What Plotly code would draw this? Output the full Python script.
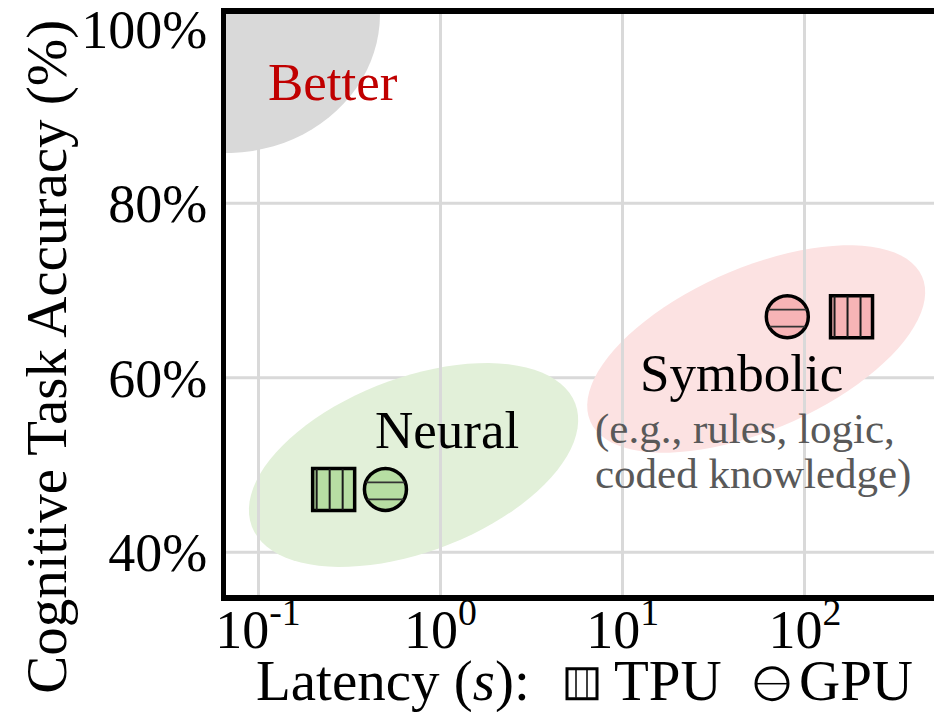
import math
import plotly.graph_objects as go

# ---------------- data ----------------
groups = ["Neural", "Symbolic"]
tpu_latency = [0.26, 180.0]      # seconds
gpu_latency = [0.50, 80.0]       # seconds
accuracy = [47.2, 67.0]          # %
group_fill = ["#b7dea3", "#f7b4b6"]
region_fill = ["#e2f0d9", "#fce2e2"]

x_tickvals = [0.1, 1, 10, 100]
x_ticktext = ["10<sup>-1</sup>", "10<sup>0</sup>", "10<sup>1</sup>", "10<sup>2</sup>"]
y_tickvals = [40, 60, 80, 100]
y_ticktext = ["40%", "60%", "80%", "100%"]
y_gridvals = [40, 60, 80]

# ---------------- layout constants ----------------
W, H = 934, 712
ML, MR, MT, MB = 226, 0, 12, 117
XR = [-1.1755, 2.7076]
YR = [35.09, 101.71]
FONT = "Liberation Serif, Times New Roman, serif"
PW, PH = W - ML - MR, H - MT - MB


def paper_x(px):
    return (px - ML) / PW


def paper_y(py):
    return (H - MB - py) / PH


def ellipse_path(a, b, ang_deg, n=90):
    th = math.radians(ang_deg)
    pts = []
    for i in range(n + 1):
        t = 2 * math.pi * i / n
        px = a * math.cos(th) * math.cos(t) - b * math.sin(th) * math.sin(t)
        py = a * math.sin(th) * math.cos(t) + b * math.cos(th) * math.sin(t)
        pts.append(f"{px:.2f},{py:.2f}")
    return "M " + " L ".join(pts) + " Z"


def pix_path(xa, ya, path, **kw):
    d = dict(type="path", xref="x", yref="y",
             xsizemode="pixel", ysizemode="pixel",
             xanchor=xa, yanchor=ya, path=path)
    d.update(kw)
    return d


fig = go.Figure()

# markers
fig.add_trace(go.Scatter(
    x=tpu_latency, y=accuracy, mode="markers", name="TPU",
    marker=dict(symbol="square", size=42, color=group_fill,
                line=dict(color="black", width=3.5)),
    showlegend=False, hoverinfo="x+y"))
fig.add_trace(go.Scatter(
    x=gpu_latency, y=accuracy, mode="markers", name="GPU",
    marker=dict(symbol="circle", size=42, color=group_fill,
                line=dict(color="black", width=3.5)),
    showlegend=False, hoverinfo="x+y"))

shapes = []

# "Better" region at the top-left corner (clipped to the plot area)
shapes.append(pix_path(10 ** XR[0], YR[1], ellipse_path(154, 139, 0),
                       layer="below", fillcolor="#d9d9d9", line=dict(width=0)))

# rotated ellipses for the two groups (center, semi-axes in px, angle)
ellipses = [
    (0.713, 50.0, 173, 87, 20.8),
    (54.0, 63.3, 181, 81, 23.6),
]
for (cx, cy, a, b, ang), col in zip(ellipses, region_fill):
    shapes.append(pix_path(cx, cy, ellipse_path(a, b, ang), layer="below",
                           fillcolor=col, line=dict(width=0)))

# horizontal grid lines (no line at 100%)
for gv in y_gridvals:
    shapes.append(dict(type="line", xref="paper", yref="y", layer="below",
                       x0=0, x1=1, y0=gv, y1=gv,
                       line=dict(color="#d9d9d9", width=3)))

# hatch lines inside the TPU squares (vertical)
for xv, yv in zip(tpu_latency, accuracy):
    for off in (-17, -4, 9):
        shapes.append(pix_path(xv, yv, f"M {off},-20.5 L {off},20.5",
                               layer="above", line=dict(color="#1a1a1a", width=2)))
# hatch lines inside the GPU circles (horizontal)
for xv, yv in zip(gpu_latency, accuracy):
    for off in (7, -10):
        hw = math.sqrt(20.5 ** 2 - off ** 2)
        shapes.append(pix_path(xv, yv, f"M {-hw:.2f},{off} L {hw:.2f},{off}",
                               layer="above", line=dict(color="#333333", width=1.8)))

# legend symbols in the x-axis title
tpu_cx, gpu_cx, sym_cy = paper_x(582), paper_x(772), paper_y(684)
shapes.append(dict(type="rect", xref="paper", yref="paper",
                   xsizemode="pixel", ysizemode="pixel",
                   xanchor=tpu_cx, yanchor=sym_cy,
                   x0=-15, x1=15, y0=-15, y1=15,
                   fillcolor="white", line=dict(color="black", width=3)))
for off in (-6, 5):
    shapes.append(dict(type="line", xref="paper", yref="paper",
                       xsizemode="pixel", ysizemode="pixel",
                       xanchor=tpu_cx, yanchor=sym_cy,
                       x0=off, x1=off, y0=-14, y1=14,
                       line=dict(color="black", width=1.5)))
shapes.append(dict(type="circle", xref="paper", yref="paper",
                   xsizemode="pixel", ysizemode="pixel",
                   xanchor=gpu_cx, yanchor=sym_cy,
                   x0=-16, x1=16, y0=-16, y1=16,
                   fillcolor="white", line=dict(color="black", width=3)))
shapes.append(dict(type="line", xref="paper", yref="paper",
                   xsizemode="pixel", ysizemode="pixel",
                   xanchor=gpu_cx, yanchor=sym_cy,
                   x0=-15, x1=15, y0=0, y1=0,
                   line=dict(color="black", width=1.5)))


def ann(text, x, y, size, color="black", xref="paper", yref="paper",
        xanchor="center", yanchor="middle", **kw):
    d = dict(text=text, x=x, y=y, xref=xref, yref=yref, showarrow=False,
             xanchor=xanchor, yanchor=yanchor,
             font=dict(family=FONT, size=size, color=color))
    d.update(kw)
    return d


annotations = [
    ann("Better", -0.589, 93.9, 53, "#c00000", xref="x", yref="y"),
    ann("Neural", 0.035, 40 + (552 - 429) / 8.75, 53, xref="x", yref="y"),
    ann("Symbolic", 1.650, 40 + (552 - 372) / 8.75, 53, xref="x", yref="y"),
    ann("(e.g., rules, logic,", paper_x(593), paper_y(428.5), 43, "#595959",
        xanchor="left"),
    ann("coded knowledge)", paper_x(593), paper_y(473.5), 43, "#595959",
        xanchor="left"),
    ann("Latency (<i>s</i>):", paper_x(254), paper_y(681), 57, xanchor="left"),
    ann("TPU", paper_x(612), paper_y(681), 57, xanchor="left"),
    ann("GPU", paper_x(797), paper_y(681), 57, xanchor="left"),
    ann("Cognitive Task Accuracy (%)", paper_x(47), paper_y(356), 57,
        textangle=-90),
]

fig.update_layout(
    width=W, height=H,
    margin=dict(l=ML, r=MR, t=MT, b=MB, pad=0),
    plot_bgcolor="white", paper_bgcolor="white",
    font=dict(family=FONT, color="black"),
    shapes=shapes, annotations=annotations,
    xaxis=dict(type="log", range=XR, tickvals=x_tickvals, ticktext=x_ticktext,
               showgrid=True, gridcolor="#d9d9d9", gridwidth=3,
               showline=True, linecolor="black", linewidth=6, mirror=True,
               ticks="", zeroline=False, ticklabelstandoff=-18,
               ticklabeloverflow="allow",
               tickfont=dict(size=54, family=FONT)),
    yaxis=dict(range=YR, tickvals=y_tickvals, ticktext=y_ticktext,
               showgrid=False, showline=True, linecolor="black", linewidth=5,
               ticks="", zeroline=False, ticklabelstandoff=3,
               ticklabeloverflow="allow",
               tickfont=dict(size=54, family=FONT)),
)

fig.write_html("out.html", config={"displayModeBar": False},
               post_script="document.body.style.margin='0px';")
